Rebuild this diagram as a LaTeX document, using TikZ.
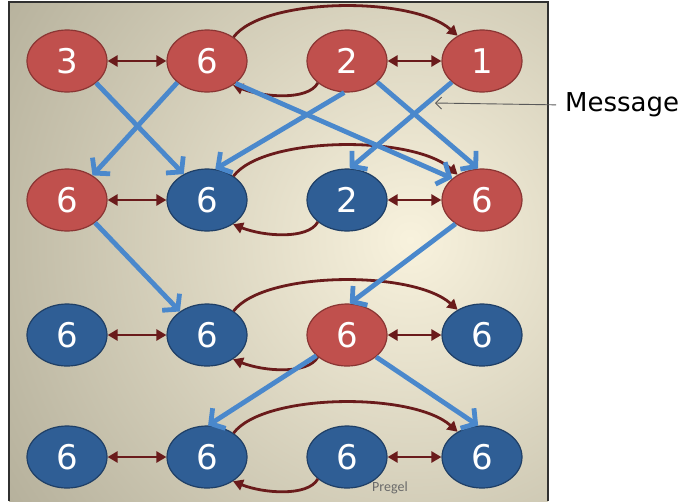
\documentclass[tikz,border=0pt]{standalone}
\usepackage{fontspec}
\setmainfont{DejaVu Sans}
\newfontfamily\creditfont{Carlito}
\usetikzlibrary{shapes.geometric,arrows.meta}

\definecolor{nodered}{HTML}{C0504D}
\definecolor{noderededge}{HTML}{8A3533}
\definecolor{nodeblue}{HTML}{2F5E95}
\definecolor{nodeblueedge}{HTML}{1F3F66}
\definecolor{linkred}{HTML}{6A1B1B}
\definecolor{msgblue}{HTML}{4A88CC}
\definecolor{panellight}{HTML}{F8F2DD}
\definecolor{paneldark}{HTML}{B3AE99}
\definecolor{panelframe}{HTML}{303030}
\definecolor{creditgray}{HTML}{6A6A6A}

\tikzset{
  vertex/.style={ellipse, minimum width=80pt, minimum height=62pt, inner sep=0pt,
    line width=1.2pt, text=white, font=\fontsize{34}{34}\selectfont},
  rednode/.style={vertex, fill=nodered, draw=noderededge},
  bluenode/.style={vertex, fill=nodeblue, draw=nodeblueedge},
  link/.style={draw=linkred, line width=2.8pt},
  both/.style={link, {Triangle[length=10pt,width=11pt]}-{Triangle[length=10pt,width=11pt]}},
  hop/.style={link, -{Triangle[length=10pt,width=11pt]}},
  msg/.style={draw=msgblue, line width=4.8pt, -{Straight Barb[length=10pt,width=24pt]}},
  pointer/.style={draw=black!65, line width=0.9pt, -{Straight Barb[length=6pt,width=12pt,line width=0.9pt]}},
}

\begin{document}
\begin{tikzpicture}[x=1pt,y=-1pt]
\useasboundingbox (0,0) rectangle (684,501);

% panel background
\begin{scope}
  \clip (9,2) rectangle (548,501);
  \fill[paneldark] (9,2) rectangle (548,501);
  \shade[inner color=panellight, outer color=paneldark] (410,240) circle (500);
\end{scope}
\draw[panelframe, line width=1.5pt] (9,501) -- (9,2) -- (548,2) -- (548,501);

% vertices, one row per superstep
\node[rednode]  (n11) at (67,61)  {3};
\node[rednode]  (n12) at (207,61) {6};
\node[rednode]  (n13) at (347,61) {2};
\node[rednode]  (n14) at (482,61) {1};

\node[rednode]  (n21) at (67,200)  {6};
\node[bluenode] (n22) at (207,200) {6};
\node[bluenode] (n23) at (347,200) {2};
\node[rednode]  (n24) at (482,200) {6};

\node[bluenode] (n31) at (67,335)  {6};
\node[bluenode] (n32) at (207,335) {6};
\node[rednode]  (n33) at (347,335) {6};
\node[bluenode] (n34) at (482,335) {6};

\node[bluenode] (n41) at (67,457)  {6};
\node[bluenode] (n42) at (207,457) {6};
\node[bluenode] (n43) at (347,457) {6};
\node[bluenode] (n44) at (482,457) {6};

% graph edges, repeated in every row
\foreach \r in {1,...,4}{
  \draw[both] (n\r1.east) -- (n\r2.west);
  \draw[both] (n\r3.east) -- (n\r4.west);
  \draw[hop] (n\r2.42) .. controls +(30,-40) and +(-45,-40) .. (n\r4.134);
  \draw[hop] (n\r3.217) .. controls +(-10,18) and +(30,12) .. (n\r2.-43);
}

% messages between supersteps
\draw[msg] (n11.-37)  -- (n22.132);
\draw[msg] (n12.-144) -- (n21.44);
\draw[msg] (n12.-38)  -- (n24.144);
\draw[msg] (n13.-95)  -- (n22.75);
\draw[msg] (n13.-35)  -- (n24.97);
\draw[msg] (n14.-145) -- (n23.85);

\draw[msg] (n21.-39)  -- (n32.139);
\draw[msg] (n24.-138) -- (n33.85);

\draw[msg] (n33.-146) -- (n42.88);
\draw[msg] (n33.-37)  -- (n44.97);

% annotation
\node[anchor=west, inner sep=0pt, font=\fontsize{26}{26}\selectfont] (msglabel) at (565,105) {Message};
\coordinate (msgtip) at (435,103);
\draw[pointer, shorten <=9pt] (msglabel.west) -- (msgtip);

\node[text=creditgray, font=\creditfont\fontsize{14}{14}\selectfont] (credit) at (390,488) {Pregel};
\end{tikzpicture}
\end{document}
